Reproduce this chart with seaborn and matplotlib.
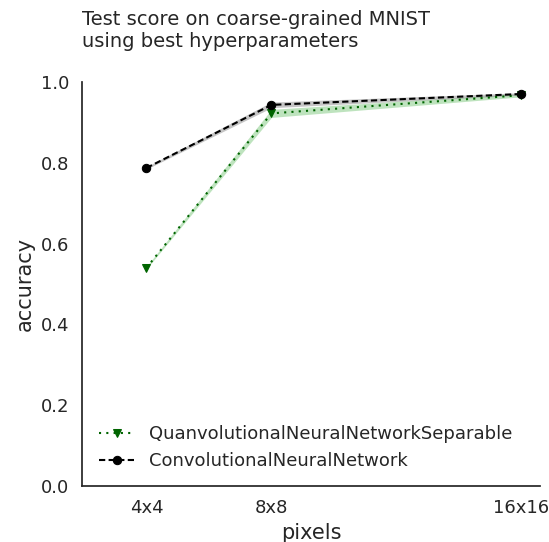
import matplotlib
matplotlib.use("Agg")
import matplotlib.pyplot as plt
import seaborn as sns
import numpy as np
import pandas as pd

pixels = [4, 8, 16]
pixel_labels = ["4x4", "8x8", "16x16"]
models = ["QuanvolutionalNeuralNetworkSeparable", "ConvolutionalNeuralNetwork"]
qnn_acc = [0.540, 0.922, 0.967]
qnn_low = [0.537, 0.912, 0.963]
qnn_high = [0.543, 0.932, 0.971]
cnn_acc = [0.787, 0.943, 0.970]
cnn_low = [0.784, 0.936, 0.967]
cnn_high = [0.790, 0.950, 0.973]

df = pd.DataFrame({
    "pixels": pixels * 2,
    "accuracy": qnn_acc + cnn_acc,
    "model": [models[0]] * 3 + [models[1]] * 3,
})

sns.set_theme(style="white")
plt.rcParams["font.family"] = ["DejaVu Sans"]

fig = plt.figure(figsize=(5.49, 5.42), dpi=100)
ax = fig.add_axes([0.150, 0.103, 0.834, 0.746])

palette = {models[0]: "darkgreen", models[1]: "black"}
sns.lineplot(data=df, x="pixels", y="accuracy", hue="model", style="model",
             markers={models[0]: "v", models[1]: "o"},
             dashes={models[0]: (1, 2.5), models[1]: (3, 1.6)},
             palette=palette, markersize=6, linewidth=1.5,
             markeredgecolor=None, ax=ax)

ax.fill_between(pixels, qnn_low, qnn_high, color="#7fc97f", alpha=0.5, linewidth=0)
ax.fill_between(pixels, cnn_low, cnn_high, color="gray", alpha=0.45, linewidth=0)

ax.set_ylim(0, 1.0)
ax.set_xlim(1.95, 16.6)
ax.set_xticks(pixels)
ax.set_xticklabels(pixel_labels)
ax.tick_params(labelsize=13)
ax.set_xlabel("pixels", fontsize=15)
ax.set_ylabel("accuracy", fontsize=15)
ax.set_title("Test score on coarse-grained MNIST\nusing best hyperparameters",
             loc="left", fontsize=14, pad=25, color="#262626")
sns.despine(ax=ax)
leg = ax.legend(loc="lower left", frameon=False, fontsize=13, handlelength=2.0)
for h in leg.legend_handles:
    h.set_markersize(6)

fig.savefig("out.png", dpi=100)
